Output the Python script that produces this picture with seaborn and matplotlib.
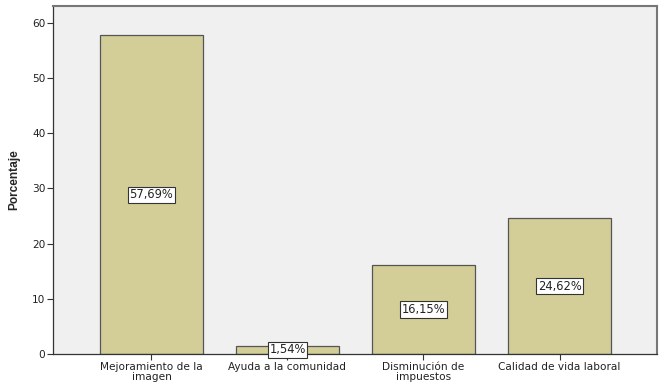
import pandas as pd
import seaborn as sns
import matplotlib.pyplot as plt

categorias = ["Mejoramiento de la\nimagen", "Ayuda a la comunidad",
              "Disminución de\nimpuestos", "Calidad de vida laboral"]
porcentajes = [57.69, 1.54, 16.15, 24.62]
etiquetas = ["57,69%", "1,54%", "16,15%", "24,62%"]

df = pd.DataFrame({"categoria": categorias, "porcentaje": porcentajes})

sns.set_style("white")
plt.rcParams['font.family'] = ['DejaVu Sans']

fig = plt.figure(figsize=(6.64, 3.88), dpi=100)
ax = fig.add_axes([0.0798, 0.0876, 0.9097, 0.897])
ax.set_facecolor("#F0F0F0")

sns.barplot(data=df, x="categoria", y="porcentaje", color="#D3CE97",
            saturation=1, width=0.757, edgecolor="#555555", linewidth=0.9, ax=ax)

for i, (v, t) in enumerate(zip(porcentajes, etiquetas)):
    ax.text(i, v / 2, t, ha="center", va="center", fontsize=8.3, color="#222222",
            bbox=dict(boxstyle="square,pad=0.14", fc="white", ec="#333333", lw=0.8))

ax.set_xlim(-0.724, 3.717)
ax.set_ylim(0, 63)
ax.set_yticks([0, 10, 20, 30, 40, 50, 60])
ax.tick_params(axis="both", labelsize=7.6, length=4, width=0.8, color="#333333",
               labelcolor="#222222", direction="out", left=True, bottom=True, pad=1.5)
ax.set_xlabel("")
ax.set_ylabel("Porcentaje", fontsize=8.6, fontweight="bold", labelpad=8,
              family="Liberation Sans")
for tl in ax.get_xticklabels():
    tl.set_linespacing(1.0)

for s in ax.spines.values():
    s.set_color("#777777")
    s.set_linewidth(1.5)
ax.spines["left"].set_color("#333333")
ax.spines["left"].set_linewidth(0.9)
ax.spines["bottom"].set_color("#333333")
ax.spines["bottom"].set_linewidth(0.9)

fig.savefig("out.png", dpi=100)
